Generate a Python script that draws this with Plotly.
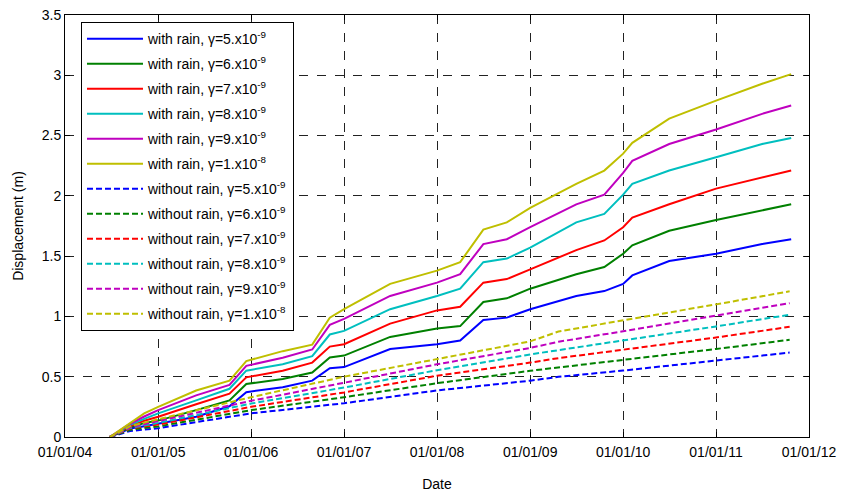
import plotly.graph_objects as go

# ---------------- data ----------------
rain_dates = ["2004-06-25", "2004-09-13", "2004-11-07", "2005-01-01", "2005-05-30",
              "2005-10-08", "2005-12-13", "2006-05-05", "2006-08-29", "2006-11-06",
              "2007-01-01", "2007-07-01", "2008-01-01", "2008-04-01", "2008-07-01",
              "2008-10-01", "2009-01-01", "2009-07-01", "2009-10-19", "2010-01-01",
              "2010-02-06", "2010-07-01", "2011-01-01", "2011-07-01", "2011-10-23"]

rain_g5 = [0, 0.07, 0.09, 0.11, 0.168, 0.255, 0.372, 0.413, 0.467, 0.57, 0.58, 0.73, 0.77,
           0.80, 0.97, 0.99, 1.06, 1.17, 1.21, 1.27, 1.34, 1.46, 1.52, 1.60, 1.64]
rain_g6 = [0, 0.08, 0.115, 0.136, 0.223, 0.304, 0.44, 0.481, 0.535, 0.66, 0.675, 0.83, 0.90,
           0.92, 1.12, 1.15, 1.23, 1.35, 1.41, 1.52, 1.59, 1.71, 1.80, 1.88, 1.93]
rain_g7 = [0, 0.09, 0.135, 0.168, 0.272, 0.359, 0.495, 0.549, 0.617, 0.75, 0.77, 0.94, 1.05,
           1.08, 1.28, 1.31, 1.39, 1.55, 1.63, 1.74, 1.82, 1.93, 2.06, 2.15, 2.21]
rain_g8 = [0, 0.10, 0.15, 0.196, 0.304, 0.40, 0.55, 0.603, 0.671, 0.85, 0.88, 1.06, 1.17,
           1.23, 1.45, 1.48, 1.57, 1.78, 1.85, 2.01, 2.10, 2.21, 2.32, 2.43, 2.48]
rain_g9 = [0, 0.11, 0.17, 0.223, 0.345, 0.432, 0.59, 0.658, 0.726, 0.93, 0.98, 1.17, 1.28,
           1.35, 1.60, 1.64, 1.74, 1.93, 2.01, 2.19, 2.29, 2.43, 2.55, 2.68, 2.75]
rain_g10 = [0, 0.12, 0.196, 0.25, 0.386, 0.467, 0.63, 0.712, 0.766, 0.99, 1.06, 1.27, 1.38,
            1.45, 1.72, 1.78, 1.90, 2.10, 2.21, 2.35, 2.44, 2.64, 2.79, 2.93, 3.01]

dry_dates = ["2004-06-25", "2004-09-13", "2005-01-01", "2006-01-01", "2007-01-01",
             "2008-01-01", "2009-01-01", "2009-04-22", "2010-01-01", "2011-01-01", "2011-10-17"]

dry_g5 = [0, 0.05, 0.073, 0.196, 0.28, 0.386, 0.467, 0.499, 0.551, 0.634, 0.70]
dry_g6 = [0, 0.06, 0.088, 0.223, 0.33, 0.446, 0.549, 0.576, 0.638, 0.73, 0.806]
dry_g7 = [0, 0.07, 0.103, 0.25, 0.37, 0.508, 0.617, 0.654, 0.724, 0.825, 0.914]
dry_g8 = [0, 0.075, 0.117, 0.277, 0.41, 0.554, 0.685, 0.72, 0.80, 0.917, 1.014]
dry_g9 = [0, 0.08, 0.132, 0.30, 0.45, 0.603, 0.739, 0.79, 0.877, 1.007, 1.11]
dry_g10 = [0, 0.09, 0.147, 0.33, 0.50, 0.644, 0.793, 0.875, 0.965, 1.10, 1.208]

gamma_labels = ["5.x10<sup>-9</sup>", "6.x10<sup>-9</sup>", "7.x10<sup>-9</sup>",
                "8.x10<sup>-9</sup>", "9.x10<sup>-9</sup>", "1.x10<sup>-8</sup>"]
colors = ["#0000FF", "#008000", "#FF0000", "#00BFBF", "#BF00BF", "#BFBF00"]

x_tick_vals = ["2004-01-01", "2005-01-01", "2006-01-01", "2007-01-01", "2008-01-01",
               "2009-01-01", "2010-01-01", "2011-01-01", "2012-01-01"]
x_tick_text = ["01/01/04", "01/01/05", "01/01/06", "01/01/07", "01/01/08",
               "01/01/09", "01/01/10", "01/01/11", "01/01/12"]
y_tick_vals = [0, 0.5, 1, 1.5, 2, 2.5, 3, 3.5]
y_tick_text = ["0", "0.5", "1", "1.5", "2", "2.5", "3", "3.5"]

rain_series = [rain_g5, rain_g6, rain_g7, rain_g8, rain_g9, rain_g10]
dry_series = [dry_g5, dry_g6, dry_g7, dry_g8, dry_g9, dry_g10]

# ---------------- figure ----------------
fig = go.Figure()
k = 0
for vals, lab, col in zip(rain_series, gamma_labels, colors):
    fig.add_trace(go.Scatter(x=rain_dates, y=vals, mode="lines",
                             name="with rain, \u03b3=" + lab, legendgroup="g%d" % k,
                             line=dict(color=col, width=2)))
    k += 1
for vals, lab, col in zip(dry_series, gamma_labels, colors):
    fig.add_trace(go.Scatter(x=dry_dates, y=vals, mode="lines",
                             name="without rain, \u03b3=" + lab, legendgroup="g%d" % k,
                             line=dict(color=col, width=2, dash="6px,3px")))
    k += 1

font_family = "Liberation Sans, Arial, Helvetica, sans-serif"

fig.update_layout(
    width=857, height=493,
    margin=dict(l=65, r=48, t=15, b=56),
    paper_bgcolor="white", plot_bgcolor="white",
    font=dict(family=font_family, size=13, color="black"),
    showlegend=True,
    legend=dict(x=0.0215, y=0.983, xanchor="left", yanchor="top",
                bgcolor="white", bordercolor="black", borderwidth=1,
                font=dict(size=14, color="black"), itemwidth=56,
                entrywidth=225, entrywidthmode="pixels",
                tracegroupgap=3.8, traceorder="grouped"),
    xaxis=dict(range=["2004-01-01", "2012-01-01"], tickmode="array",
               tickvals=x_tick_vals, ticktext=x_tick_text, automargin=False,
               showline=True, linecolor="black", linewidth=1, mirror="ticks",
               ticks="inside", ticklen=5, tickcolor="black",
               showgrid=True, gridcolor="#222", griddash="dash", gridwidth=1,
               zeroline=False, tickfont=dict(size=14), ticklabelstandoff=2,
               title=dict(text="Date", font=dict(size=14), standoff=20)),
    yaxis=dict(range=[0, 3.5], tickmode="array", tickvals=y_tick_vals, ticktext=y_tick_text,
               showline=True, linecolor="black", linewidth=1, mirror="ticks",
               ticks="inside", ticklen=5, tickcolor="black", automargin=False,
               showgrid=True, gridcolor="#222", griddash="dash", gridwidth=1,
               zeroline=False, tickfont=dict(size=14),
               title=dict(text="Displacement (m)", font=dict(size=14), standoff=14)),
)

fig.write_html("out.html")
